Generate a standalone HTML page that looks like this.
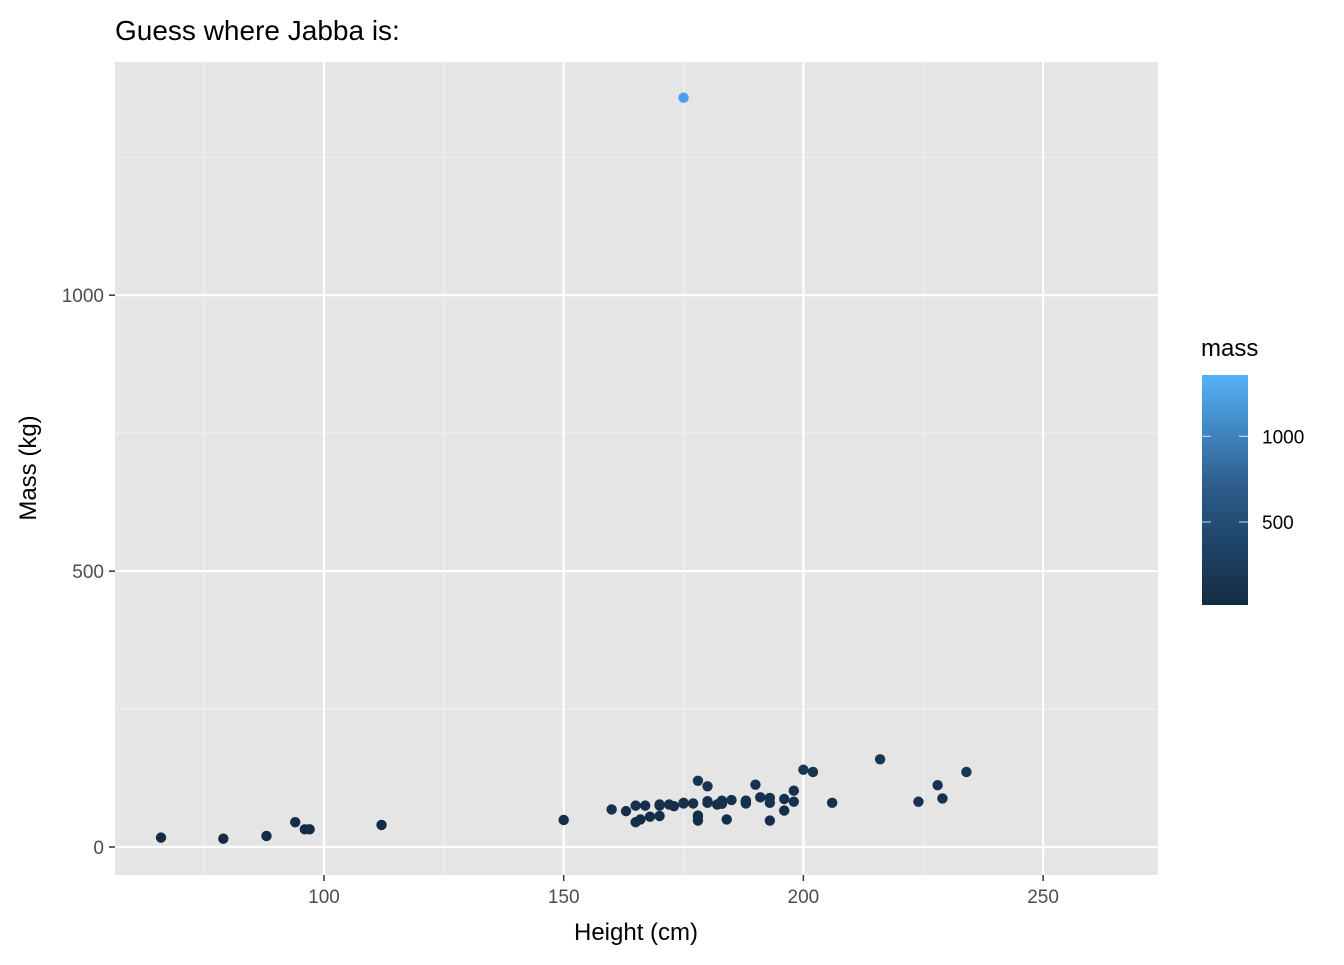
<!DOCTYPE html>
<html><head><meta charset="utf-8"><style>
body{margin:0;background:#fff;font-family:"Liberation Sans",Arial,sans-serif}
</style></head><body>
<svg id="chart" width="1344" height="960" xmlns="http://www.w3.org/2000/svg">
<defs><linearGradient id="grad" x1="0" y1="1" x2="0" y2="0">
<stop offset="0" stop-color="#132B43"/><stop offset="0.5" stop-color="#2B5A88"/><stop offset="1" stop-color="#56B1F7"/></linearGradient></defs>
<rect x="115" y="62" width="1043" height="813" fill="#e5e5e5"/>
<g id="grid"></g><g id="points"></g><g id="axes"></g>
<text x="115" y="40" font-size="28" fill="#000">Guess where Jabba is:</text>
<text x="636" y="940" font-size="24" text-anchor="middle">Height (cm)</text>
<text transform="translate(36,468) rotate(-90)" font-size="24" text-anchor="middle">Mass (kg)</text>
<text x="1201" y="356" font-size="24">mass</text>
<rect x="1202" y="375" width="46" height="230" fill="url(#grad)"/>
<g id="legend"></g>
</svg>
<script>
const heights=[172,167,96,202,150,178,165,97,183,182,188,228,180,173,175,170,180,66,170,183,200,190,177,175,180,79,88,160,193,191,165,196,224,112,175,178,94,163,188,198,196,184,188,185,183,170,166,193,183,168,198,229,193,178,216,234,188,178,206];
const masses=[77,75,32,136,49,120,75,32,84,77,84,112,80,74,1358,77,110,17,75,78.2,140,113,79,79,83,15,20,68,89,90,45,66,82,40,80,55,45,65,84,82,87,50,80,85,80,56.2,50,80,79,55,102,88,48,57,159,136,79,48,80];
const xTicks=[100,150,200,250];
const yTicks=[0,500,1000];
const legendTicks=[500,1000];
const NS="http://www.w3.org/2000/svg";
const X=v=>324+(v-100)*4.794, Y=v=>847-v*0.5518;
const mMin=Math.min(...masses),mMax=Math.max(...masses);
const L=v=>605-(v-mMin)/(mMax-mMin)*230;
function mk(p,t,a){const e=document.createElementNS(NS,t);for(const k in a)e.setAttribute(k,a[k]);p.appendChild(e);return e;}
const grid=document.getElementById('grid'),axes=document.getElementById('axes');
[75,125,175,225].forEach(v=>{const l=mk(grid,'line',{x1:X(v),x2:X(v),y1:62,y2:875,stroke:'#f2f2f2','stroke-width':1});
});
[250,750,1250].forEach(v=>{const l=mk(grid,'line',{x1:115,x2:1158,y1:Y(v),y2:Y(v),stroke:'#f2f2f2','stroke-width':1});
});
xTicks.forEach(v=>{const l=mk(grid,'line',{x1:X(v),x2:X(v),y1:62,y2:875,stroke:'#fff','stroke-width':2.2});

const t=mk(axes,'line',{x1:X(v),x2:X(v),y1:875,y2:881,stroke:'#333','stroke-width':1.5});

const s=mk(axes,'text',{x:X(v),y:903,'font-size':19,fill:'#4d4d4d','text-anchor':'middle'});s.textContent=v;
});
yTicks.forEach(v=>{const l=mk(grid,'line',{x1:115,x2:1158,y1:Y(v),y2:Y(v),stroke:'#fff','stroke-width':2.2});

const t=mk(axes,'line',{x1:109,x2:115,y1:Y(v),y2:Y(v),stroke:'#333','stroke-width':1.5});

const s=mk(axes,'text',{x:104,y:Y(v)+7,'font-size':19,fill:'#4d4d4d','text-anchor':'end'});s.textContent=v;
});
function col(v){const f=(v-mMin)/(mMax-mMin);const a=[0x13,0x2B,0x43],b=[0x4A,0x9E,0xEE];
const g=Math.pow(f,1.0);return 'rgb('+a.map((c,i)=>Math.round(c+(b[i]-c)*g)).join(',')+')';}
const pts=document.getElementById('points');
heights.forEach((h,i)=>{const c=mk(pts,'circle',{cx:X(h),cy:Y(masses[i]),r:5.2,fill:col(masses[i])});
});
const lg=document.getElementById('legend');
legendTicks.forEach(v=>{const y=L(v);
const a=mk(lg,'line',{x1:1202,x2:1211,y1:y,y2:y,stroke:'#fff','stroke-width':1,'stroke-opacity':0.8});

const b=mk(lg,'line',{x1:1239,x2:1248,y1:y,y2:y,stroke:'#fff','stroke-width':1,'stroke-opacity':0.8});

const s=mk(lg,'text',{x:1262,y:y+7,'font-size':19,fill:'#000'});s.textContent=v;
});
</script>
</body></html>
